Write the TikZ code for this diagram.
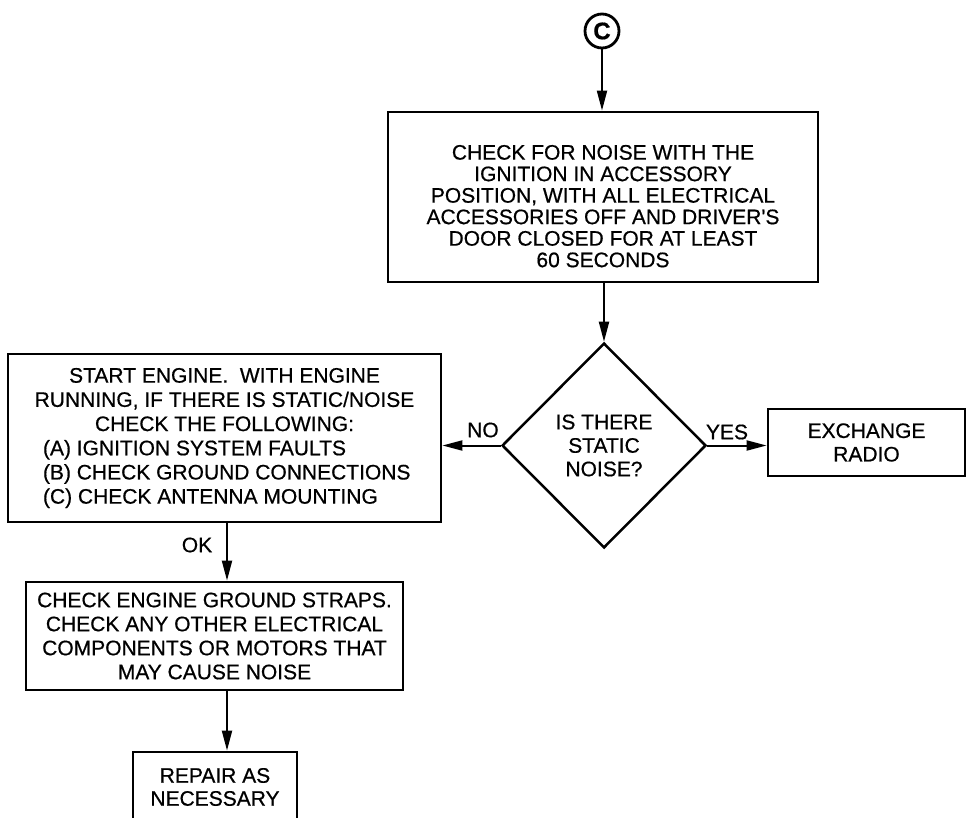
\documentclass[tikz,border=0pt]{standalone}
\usepackage{fontspec}
\setmainfont[FakeBold=0.6]{Liberation Sans}
\usetikzlibrary{shapes.geometric,arrows.meta}
\tikzset{
  box/.style={draw, line width=2.8pt, align=center, inner sep=0pt,
    font=\fontsize{21}{23.5}\selectfont},
  lbl/.style={font=\fontsize{21}{23.5}\selectfont, inner sep=0pt},
  arr/.style={line width=2pt, -{Triangle[length=20pt,width=10pt]}}
}
\begin{document}
\begin{tikzpicture}[x=1pt,y=-1pt]
\useasboundingbox (0,0) rectangle (972,818);
\clip (0,0) rectangle (972,818);
\node[draw, circle, line width=2.8pt, minimum size=34pt, inner sep=0pt,
  font=\fontsize{24}{24}\selectfont\bfseries] (c) at (602,31) {C};
\node[box, minimum width=430pt, minimum height=170pt,
  font=\fontsize{21}{21.5}\selectfont] (top) at (603,197)
  {\rule{0pt}{33pt}CHECK FOR NOISE WITH THE\\IGNITION IN ACCESSORY\\POSITION, WITH ALL ELECTRICAL\\ACCESSORIES OFF AND DRIVER\textquotesingle S\\DOOR CLOSED FOR AT LEAST\\60 SECONDS};
\node[box, diamond, line width=2.5pt, minimum width=204pt, minimum height=205pt] (dia) at (604,445.5)
  {IS THERE\\STATIC\\NOISE?};
\node[box, minimum width=197pt, minimum height=67pt] (ex) at (866.5,442.5)
  {EXCHANGE\\RADIO};
\node[box, minimum width=433pt, minimum height=168pt,
  font=\fontsize{21}{24.2}\selectfont] (left) at (224.5,438)
  {START ENGINE.\ \ WITH ENGINE\\RUNNING, IF THERE IS STATIC/NOISE\\CHECK THE FOLLOWING:\\
   \makebox[363pt][l]{(A) IGNITION SYSTEM FAULTS}\\
   \makebox[363pt][l]{(B) CHECK GROUND CONNECTIONS}\\
   \makebox[363pt][l]{(C) CHECK ANTENNA MOUNTING}};
\node[box, minimum width=377pt, minimum height=108pt,
  font=\fontsize{21}{24}\selectfont] (gnd) at (214.5,636)
  {CHECK ENGINE GROUND STRAPS.\\CHECK ANY OTHER ELECTRICAL\\COMPONENTS OR MOTORS THAT\\MAY CAUSE NOISE};
\node[box, minimum width=164pt, minimum height=70pt,
  font=\fontsize{21}{23}\selectfont] (rep) at (215,787)
  {REPAIR AS\\NECESSARY};
\coordinate (okx) at (227,0);
\draw[arr] (c.south) -- (top.north -| c.south);
\draw[arr] (top.south -| dia.north) -- (dia.north);
\draw[arr] (dia.west) -- (left.east |- dia.west);
\draw[arr] (dia.east) -- (ex.west |- dia.east);
\draw[arr] (left.south -| okx) -- (gnd.north -| okx);
\draw[arr] (gnd.south -| okx) -- (rep.north -| okx);
\node[lbl] (no) at (483,430) {NO};
\node[lbl] (yes) at (727,432) {YES};
\node[lbl] (ok) at (197,545) {OK};
\end{tikzpicture}
\end{document}
